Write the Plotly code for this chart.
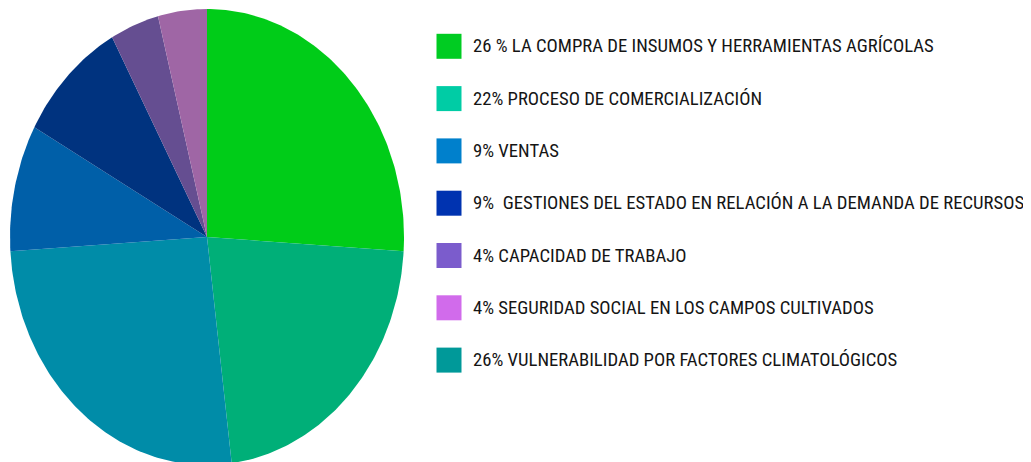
import numpy as np
import plotly.graph_objects as go

# pie slices, clockwise from 12 o'clock
slice_labels = ["Compra de insumos", "Comercialización", "Vulnerabilidad", "Ventas",
                "Gestiones del estado", "Capacidad de trabajo", "Seguridad social"]
slice_values = [26, 22, 26, 9, 9, 4, 4]
slice_colors = ["#00CC18", "#00AF78", "#008CA8", "#005FA8", "#00337F", "#654E91", "#9F66A5"]

# legend entries (as printed in the picture)
legend_text = [
    "26 % LA COMPRA DE INSUMOS Y HERRAMIENTAS AGRÍCOLAS",
    "22% PROCESO DE COMERCIALIZACIÓN",
    "9% VENTAS",
    "9%  GESTIONES DEL ESTADO EN RELACIÓN A LA DEMANDA DE RECURSOS",
    "4% CAPACIDAD DE TRABAJO",
    "4% SEGURIDAD SOCIAL EN LOS CAMPOS CULTIVADOS",
    "26% VULNERABILIDAD POR FACTORES CLIMATOLÓGICOS",
]
legend_colors = ["#00CC22", "#00CCA5", "#0080CC", "#0033B0", "#7B5CCC", "#D16BEB", "#009999"]

SW, SH = 1031, 462      # browser window
OFF = 8                 # default body margin of the page
W, H = SW - OFF, SH - OFF
FONT = "Liberation Sans Narrow, Roboto Condensed, Roboto, sans-serif"

# pie geometry in screen pixels (stretched vertically like the original)
CX, CY, RX, RY = 207, 237, 197, 228

fig = go.Figure()

total = sum(slice_values)
start = 0.0
for lab, val, col in zip(slice_labels, slice_values, slice_colors):
    end = start + val / total
    t = np.linspace(start, end, max(int(val * 4), 8)) * 2 * np.pi
    xs = np.concatenate([[0], np.sin(t), [0]])
    ys = np.concatenate([[0], np.cos(t), [0]])
    fig.add_trace(go.Scatter(x=xs, y=ys, fill="toself", fillcolor=col, mode="lines",
                             line=dict(width=0), name=lab, hoverinfo="name",
                             xaxis="x", yaxis="y", showlegend=False))
    start = end

# legend swatches + text on a screen-pixel axis
row_y = [46.3 + 52.3 * i for i in range(len(legend_text))]
fig.add_trace(go.Scatter(x=[449] * len(row_y), y=row_y, mode="markers",
                         marker=dict(symbol="square", size=25, color=legend_colors,
                                     line=dict(width=0)),
                         hoverinfo="skip", showlegend=False, xaxis="x2", yaxis="y2"))
for txt, y in zip(legend_text, row_y):
    fig.add_annotation(x=471, y=y, xref="x2", yref="y2", text=txt, showarrow=False,
                       xanchor="left", yanchor="middle",
                       font=dict(family=FONT, size=18.7, color="#151515"))

fig.update_layout(
    width=W, height=H,
    margin=dict(l=0, r=0, t=0, b=0),
    paper_bgcolor="white", plot_bgcolor="rgba(0,0,0,0)",
    xaxis=dict(domain=[(CX - RX - OFF) / W, (CX + RX - OFF) / W], range=[-1, 1],
               visible=False, fixedrange=True, anchor="y"),
    yaxis=dict(domain=[0, 1], range=[(CY - SH) / RY, (CY - OFF) / RY],
               visible=False, fixedrange=True, anchor="x"),
    xaxis2=dict(domain=[0, 1], range=[OFF, SW], visible=False, fixedrange=True, anchor="y2"),
    yaxis2=dict(domain=[0, 1], range=[SH, OFF], visible=False, fixedrange=True, anchor="x2"),
    showlegend=False,
)

fig.write_html("out.html")
